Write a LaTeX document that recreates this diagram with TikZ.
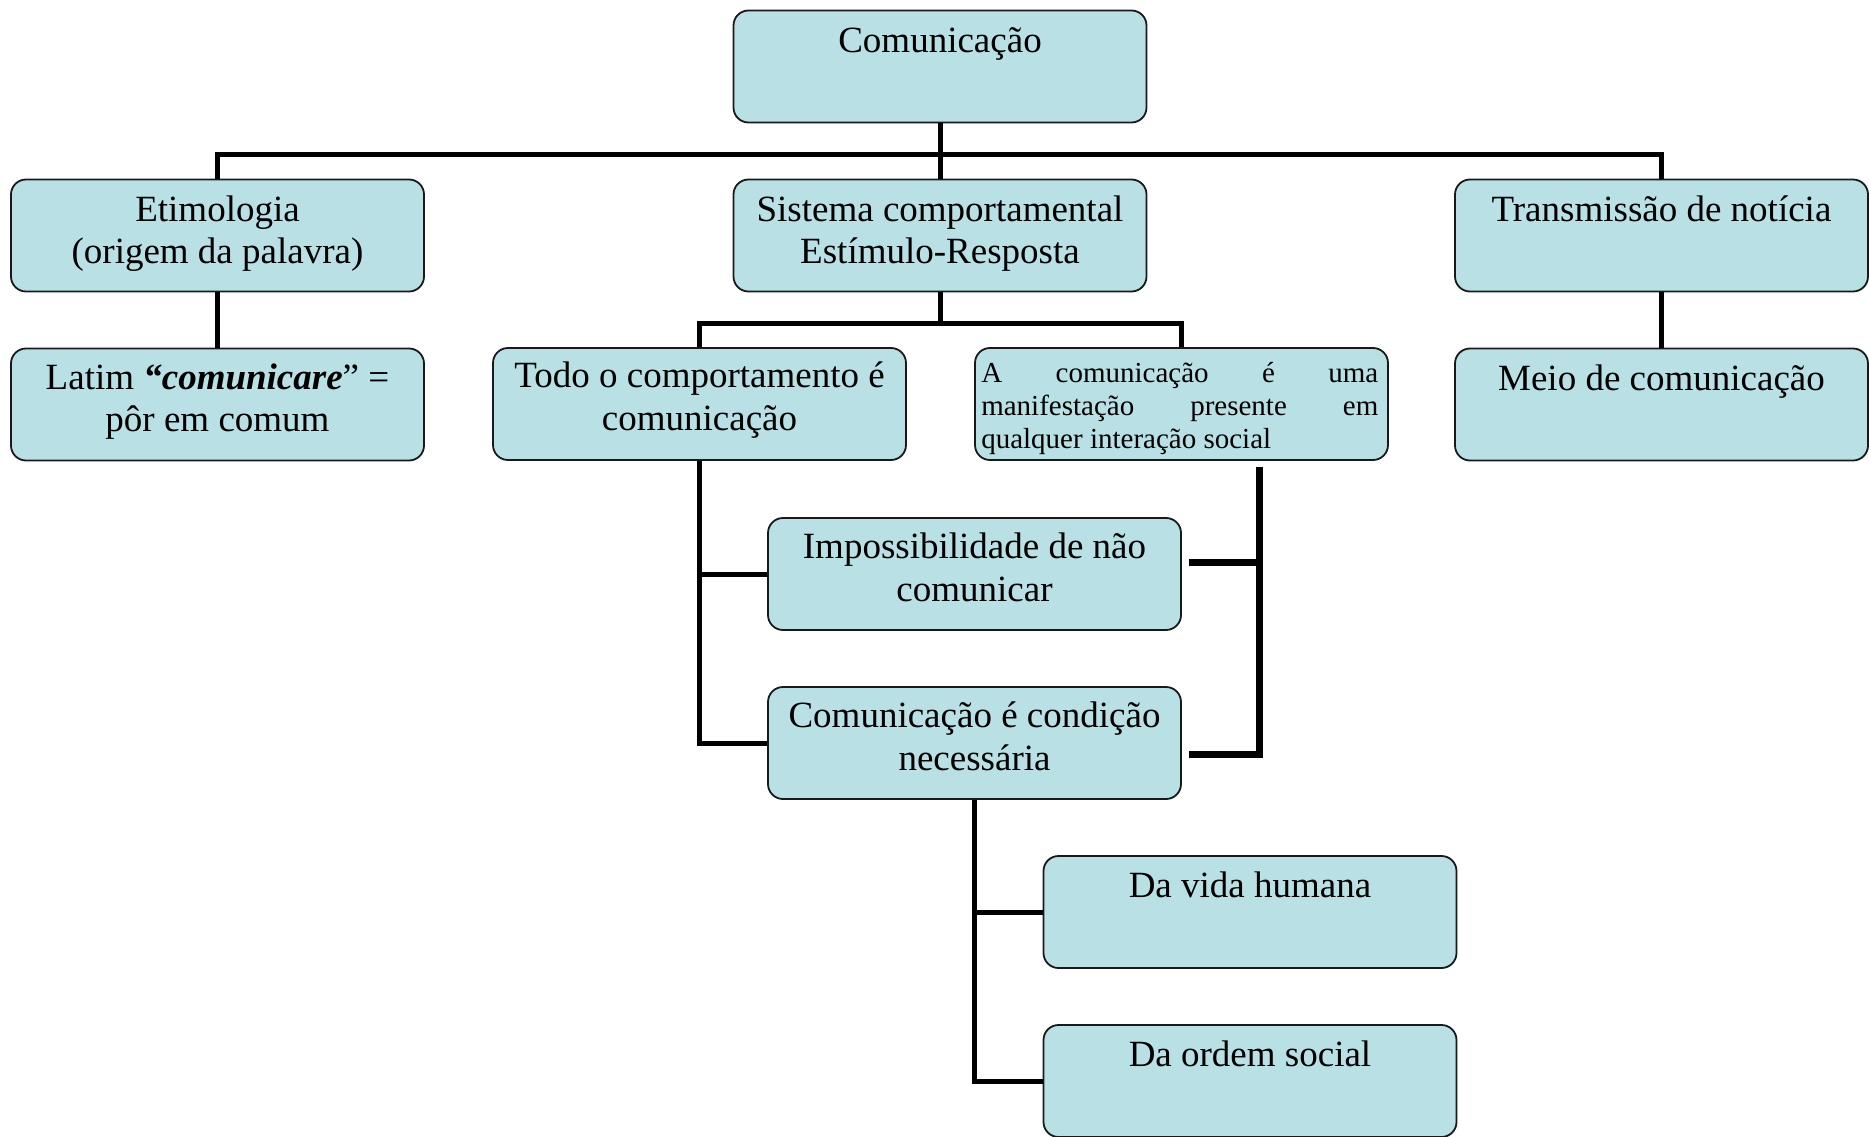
\documentclass[tikz,border=0pt]{standalone}
\usepackage{fontspec}
\setmainfont{Liberation Serif}
\definecolor{boxfill}{RGB}{185,224,228}
\begin{document}
\begin{tikzpicture}[x=1pt,y=-1pt,
  box/.style={draw=black!90, line width=1.8pt, fill=boxfill, rounded corners=15pt,
    minimum width=413pt, minimum height=112pt, inner sep=0pt},
  lbl/.style={anchor=north, inner sep=0pt, align=center,
    font=\fontsize{37}{42.5}\selectfont},
  small/.style={anchor=north west, inner sep=0pt, text width=397pt, align=justify,
    font=\fontsize{29}{33}\selectfont},
  conn/.style={line width=5pt},
  connb/.style={line width=7pt},
]
\useasboundingbox (0,0) rectangle (1869,1137);

% boxes
\node[box] (com)   at (940,66.5)    {};
\node[box] (etim)  at (217.5,235.5) {};
\node[box] (sist)  at (940,235.5)   {};
\node[box] (trans) at (1661.5,235.5)  {};
\node[box] (latim) at (217.5,404.5) {};
\node[box] (todo)  at (699.5,404)   {};
\node[box] (acom)  at (1181.5,404)  {};
\node[box] (meio)  at (1661.5,404.5)  {};
\node[box] (imp)   at (974.5,574)   {};
\node[box] (cond)  at (974.5,743)   {};
\node[box] (vida)  at (1250,912)    {};
\node[box] (ordem) at (1250,1081)   {};

% labels
\node[lbl] (com-t)   at ([yshift=-12.5pt]com.north)   {\strut Comunicação};
\node[lbl] (etim-t)  at ([yshift=-12.5pt]etim.north)  {\strut Etimologia\\(origem da palavra)};
\node[lbl] (sist-t)  at ([yshift=-12.5pt]sist.north)  {\strut Sistema comportamental\\Estímulo-Resposta};
\node[lbl] (trans-t) at ([yshift=-12.5pt]trans.north) {\strut Transmissão de notícia};
\node[lbl] (latim-t) at ([yshift=-11.5pt]latim.north) {\strut Latim \textbf{\textit{“comunicare}}” =\\pôr em comum};
\node[lbl] (todo-t)  at ([yshift=-10.5pt]todo.north) {\strut Todo o comportamento é\\comunicação};
\node[small] (acom-t) at ([xshift=7pt,yshift=-12pt]acom.north west)
  {\noindent\strut A\hfill comunicação\hfill é\hfill uma\newline
   manifestação\hfill presente\hfill em\newline
   qualquer interação social};
\node[lbl] (meio-t)  at ([yshift=-12.5pt]meio.north)  {\strut Meio de comunicação};
\node[lbl] (imp-t)   at ([yshift=-11.5pt]imp.north)   {\strut Impossibilidade de não\\comunicar};
\node[lbl] (cond-t)  at ([yshift=-11.5pt]cond.north)  {\strut Comunicação é condição\\necessária};
\node[lbl] (vida-t)  at ([yshift=-12.5pt]vida.north)  {\strut Da vida humana};
\node[lbl] (ordem-t) at ([yshift=-12.5pt]ordem.north) {\strut Da ordem social};

% connectors
\coordinate (bus1) at (0,155);
\coordinate (bus2) at (0,323);
\draw[conn] (com.south) -- (sist.north);
\draw[conn] (etim.north) |- (bus1 -| trans.north) -- (trans.north);
\draw[conn] (etim.south) -- (latim.north);
\draw[conn] (trans.south) -- (meio.north);

\draw[conn] (sist.south) -- (bus2 -| sist.south);
\draw[conn] (todo.north) |- (bus2 -| acom.north) -- (acom.north);

\draw[conn] (todo.south) |- (cond.west);
\draw[conn] (imp.west) -- (imp.west -| todo.south);

\coordinate (r-top) at ([xshift=77.5pt,yshift=-6pt]acom.south);
\coordinate (r-a) at ([xshift=7pt,yshift=12pt]imp.east);
\coordinate (r-b) at ([xshift=7pt,yshift=-11pt]cond.east);
\draw[connb] (r-top) |- (r-b);
\draw[connb] (r-a) -- (r-a -| r-top);

\draw[conn] (cond.south) |- (ordem.west);
\draw[conn] (vida.west) -- (vida.west -| cond.south);
\end{tikzpicture}
\end{document}
